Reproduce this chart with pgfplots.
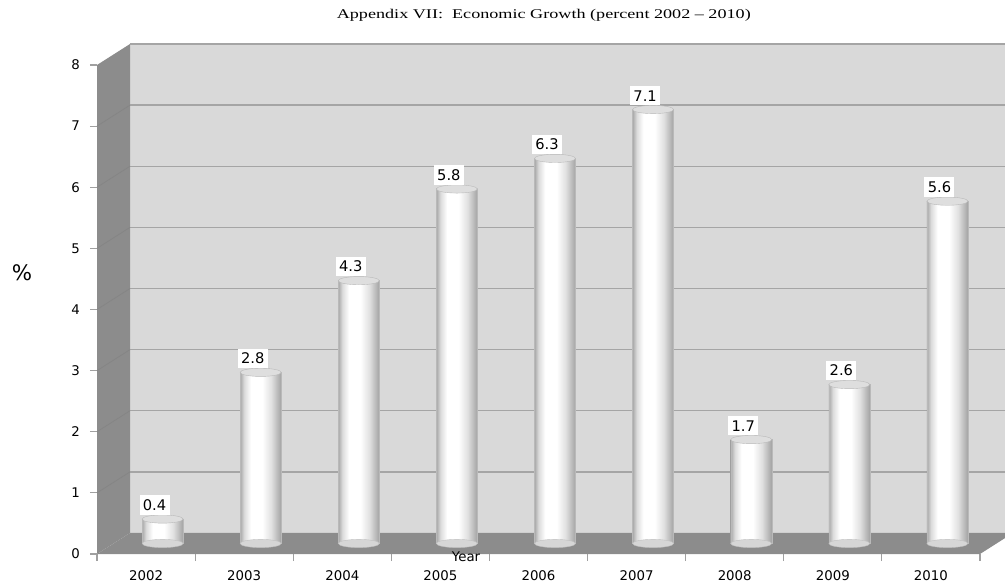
\documentclass[border=0pt]{standalone}
\usepackage{fontspec}
\setmainfont{DejaVu Sans}
\newfontfamily\titlefont{Liberation Serif}
\usepackage{pgfplots}
\usepackage{pgfplotstable}
\pgfplotsset{compat=1.18}
\definecolor{wallback}{HTML}{D9D9D9}
\definecolor{walldark}{HTML}{8C8C8C}
\definecolor{gridc}{HTML}{A5A5A5}
\definecolor{leftgrid}{HTML}{858585}
\definecolor{axisc}{HTML}{A0A0A0}
\pgfdeclarehorizontalshading{cyl}{100bp}{color(0bp)=(white!66!black); color(25bp)=(white!66!black); color(30bp)=(white!86!black); color(38bp)=(white); color(52bp)=(white); color(63bp)=(white!88!black); color(75bp)=(white!64!black); color(100bp)=(white!64!black)}
\pgfplotstableread{
x    year  v
0.5  2002  0.4
1.5  2003  2.8
2.5  2004  4.3
3.5  2005  5.8
4.5  2006  6.3
5.5  2007  7.1
6.5  2008  1.7
7.5  2009  2.6
8.5  2010  5.6
}\growth
\begin{document}
\begin{tikzpicture}
\useasboundingbox (0,0) rectangle (753.75pt,441pt);
% front frame, walls, ticks, labels
\begin{axis}[
  at={(72.75pt,25.5pt)}, anchor=south west,
  scale only axis, width=662.25pt, height=366.75pt,
  xmin=0, xmax=9, ymin=0, ymax=8, clip=false,
  axis x line*=bottom, axis y line*=left,
  axis line style={draw=none},
  xtick={0.5,1.5,...,8.5},
  xticklabels={2002,2003,2004,2005,2006,2007,2008,2009,2010},
  minor xtick={0,1,...,9},
  ytick={0,1,...,8},
  tick align=outside,
  major tick length=5.25pt, minor tick length=5.25pt,
  tick style={draw=axisc, line width=0.8pt},
  major x tick style={draw=none},
  ticklabel style={font=\fontsize{10}{12}\selectfont},
  xticklabel style={yshift=-3.75pt},
  yticklabel style={xshift=-4pt},
  /pgf/number format/assume math mode=true,
  title={\titlefont Appendix VII:\ \ Economic Growth (percent 2002 – 2010)},
  title style={at={(axis description cs:0.506,1.086)}, anchor=center, yshift=0pt, xscale=1.36, font=\fontsize{10}{12}\selectfont},
  xlabel={Year},
  every axis x label/.style={at={(axis description cs:0.418,-0.006)}, anchor=center, font=\fontsize{10}{12}\selectfont},
  ylabel={\%},
  every axis y label/.style={at={(axis description cs:-0.085,0.575)}, anchor=center, font=\fontsize{16}{18}\selectfont},
]
\fill[wallback] (axis cs:0.3364,0.3436) rectangle (axis cs:9.6,8.3436);
\fill[walldark] (axis cs:0,0) -- (axis cs:9,0) -- (axis cs:9.3364,0.3436) -- (axis cs:0.3364,0.3436) -- cycle;
\fill[walldark] (axis cs:0,0) -- (axis cs:0,8) -- (axis cs:0.3364,8.3436) -- (axis cs:0.3364,0.3436) -- cycle;
\draw[gridc, line width=1.1pt] (axis cs:0.3364,1.3436) -- (axis cs:9.6,1.3436);
\draw[gridc, line width=1.1pt] (axis cs:0.3364,2.3436) -- (axis cs:9.6,2.3436);
\draw[gridc, line width=1.1pt] (axis cs:0.3364,3.3436) -- (axis cs:9.6,3.3436);
\draw[gridc, line width=1.1pt] (axis cs:0.3364,4.3436) -- (axis cs:9.6,4.3436);
\draw[gridc, line width=1.1pt] (axis cs:0.3364,5.3436) -- (axis cs:9.6,5.3436);
\draw[gridc, line width=1.1pt] (axis cs:0.3364,6.3436) -- (axis cs:9.6,6.3436);
\draw[gridc, line width=1.1pt] (axis cs:0.3364,7.3436) -- (axis cs:9.6,7.3436);
\draw[gridc, line width=1.1pt] (axis cs:0.3364,8.3436) -- (axis cs:9.6,8.3436);
\draw[leftgrid, line width=0.6pt] (axis cs:0,1) -- (axis cs:0.3364,1.3436);
\draw[leftgrid, line width=0.6pt] (axis cs:0,2) -- (axis cs:0.3364,2.3436);
\draw[leftgrid, line width=0.6pt] (axis cs:0,3) -- (axis cs:0.3364,3.3436);
\draw[leftgrid, line width=0.6pt] (axis cs:0,4) -- (axis cs:0.3364,4.3436);
\draw[leftgrid, line width=0.6pt] (axis cs:0,5) -- (axis cs:0.3364,5.3436);
\draw[leftgrid, line width=0.6pt] (axis cs:0,6) -- (axis cs:0.3364,6.3436);
\draw[leftgrid, line width=0.6pt] (axis cs:0,7) -- (axis cs:0.3364,7.3436);
\end{axis}
% bars at mid depth
\begin{axis}[
  at={(85.125pt,33.375pt)}, anchor=south west,
  scale only axis, width=662.25pt, height=366.75pt,
  xmin=0, xmax=9, ymin=0, ymax=8, clip=false,
  axis lines=none,
  /pgf/number format/assume math mode=true,
]
\addplot[only marks, mark=*, mark size=15.375pt,
  mark options={yscale=0.2, fill=white!84!black, draw=gray!50, line width=0.3pt}]
  table[x=x, y expr=0] {\growth};
\pgfplotsinvokeforeach{0.5,1.5,2.5,3.5,4.5,5.5,6.5,7.5,8.5}{
\addplot[ybar, bar width=30.75pt, bar shift=0pt, draw=gray!55, line width=0.3pt, shading=cyl,
  x filter/.expression={abs(x-#1)<0.1 ? x : nan}]
  table[x=x, y=v] {\growth};
}
\addplot[only marks, mark=*, mark size=15.375pt,
  mark options={yscale=0.2, fill=white!87!black, draw=gray!55, line width=0.3pt},
  nodes near coords,
  nodes near coords style={fill=white, inner xsep=2.5pt, inner ysep=3.2pt, anchor=south,
    xshift=-6pt, yshift=3pt, font=\fontsize{11}{13}\selectfont, text=black}]
  table[x=x, y=v] {\growth};
\end{axis}
\end{tikzpicture}
\end{document}
